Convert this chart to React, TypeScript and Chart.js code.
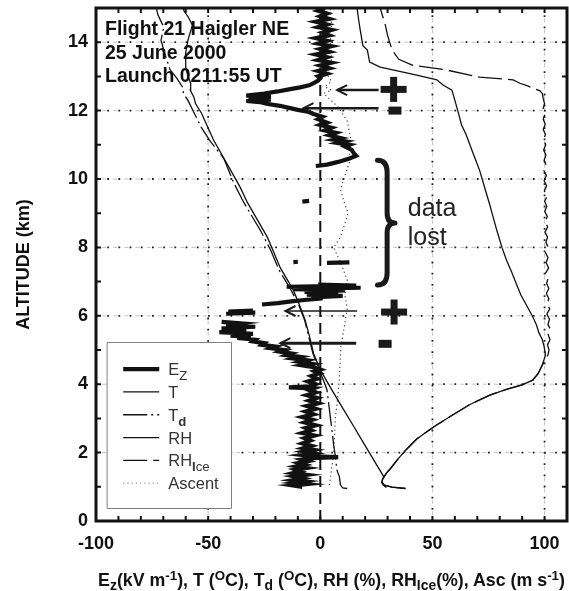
import React, { useEffect, useRef } from "react";
import { Chart, registerables } from "chart.js";

Chart.register(...registerables);

const FONT = '"Liberation Sans", Arial, Helvetica, sans-serif';

// ---------- axes ----------
const X_MIN = -100;
const X_MAX = 110;
const Y_MIN = 0;
const Y_MAX = 15;
const X_TICK_LABELS = [-100, -50, 0, 50, 100];
const Y_TICK_LABELS = [0, 2, 4, 6, 8, 10, 12, 14];
const X_GRID = [-50, 50, 100];
const Y_GRID = [2, 4, 6, 8, 10, 12, 14];

// ---------- series: [altitude km, value] (null = data gap) ----------
const ezProfile: [number, number | null][] = [
  [1.0, -8], [1.04, -12], [1.08, -6], [1.12, -11], [1.16, -7], [1.2, -12], [1.25, -8], [1.3, -11.5],
  [1.35, -6], [1.4, -12], [1.45, -9], [1.5, -11], [1.55, -6], [1.6, -10.5], [1.65, -7], [1.7, -9.5],
  [1.75, -5.5], [1.8, -8], [1.84, -4], [1.87, 8], [1.89, -3], [1.93, -8], [1.98, -3], [2.03, -7],
  [2.08, -3], [2.13, -7.5], [2.2, -4], [2.27, -8], [2.35, -4.5], [2.42, -7], [2.5, -2.5], [2.57, -8],
  [2.65, -4], [2.72, -6.5], [2.8, -2], [2.88, -7], [2.96, -3.5], [3.04, -8], [3.12, -3], [3.2, -6.5],
  [3.28, -2], [3.36, -6], [3.44, -1], [3.52, -5], [3.6, -1.5], [3.68, -6], [3.76, -2], [3.83, -5],
  [3.88, -3], [3.91, -14], [3.94, -4], [4.0, -2], [4.08, -5.5], [4.16, -1.5], [4.24, -4], [4.32, -0.5],
  [4.38, -2.5], [4.43, 0], [4.5, -3], [4.55, -8], [4.6, -4], [4.65, -9], [4.7, -6], [4.75, -12],
  [4.8, -9], [4.85, -15], [4.9, -13], [4.95, -18], [5.0, -16], [5.05, -22], [5.1, -20], [5.15, -26],
  [5.2, -25], [5.25, -30], [5.3, -29], [5.35, -37], [5.38, -31], [5.42, -40], [5.47, -30], [5.52, -45],
  [5.58, -33], [5.63, -44], [5.68, -29], [5.73, -42], [5.78, -36], [5.82, -44],
  [5.9, null],
  [6.06, -42], [6.09, -29], [6.12, -41], [6.15, -30],
  [6.2, null],
  [6.33, -26], [6.37, -19], [6.42, -13], [6.47, -6], [6.51, 1], [6.54, -4], [6.58, 10], [6.62, -6],
  [6.66, 8], [6.7, -7], [6.74, 11], [6.78, -12], [6.82, 18], [6.85, -15], [6.88, 16], [6.91, -1],
  [7.0, null],
  [7.55, 3], [7.56, 13],
  [7.565, null],
  [7.57, -12], [7.58, -10],
  [8.0, null],
  [9.34, -8], [9.36, -5],
  [10.0, null],
  [10.38, -2], [10.42, 3], [10.5, 8], [10.6, 13], [10.68, 16], [10.75, 15], [10.85, 14], [10.95, 11],
  [11.0, 13], [11.05, 8], [11.1, 11], [11.15, 6], [11.2, 9], [11.28, 4], [11.35, 7], [11.42, 2],
  [11.5, 5], [11.58, 0], [11.65, 3], [11.75, -1], [11.82, 1], [11.9, -3], [11.96, -5], [12.02, -10],
  [12.08, -14], [12.14, -18], [12.2, -24], [12.25, -27], [12.28, -33], [12.32, -22], [12.36, -32],
  [12.4, -22], [12.44, -33], [12.5, -25], [12.56, -19], [12.62, -14], [12.68, -9], [12.74, -5],
  [12.8, -3], [12.88, -1], [12.95, 0], [13.0, -1], [13.08, 3], [13.16, -1], [13.24, 4], [13.32, 0],
  [13.4, 5], [13.48, -1], [13.56, 3], [13.64, -2], [13.72, 4], [13.8, 0], [13.88, 5], [13.96, -1],
  [14.04, 3], [14.12, -2], [14.2, 4], [14.28, 1], [14.36, 5], [14.44, -1], [14.52, 3], [14.6, -2],
  [14.68, 4], [14.76, 0], [14.84, 3], [14.92, -1], [15.0, 2],
];

const tProfile: [number, number][] = [
  [0.98, 29.5], [1.05, 28], [1.12, 27.4], [1.2, 27.6], [1.3, 28.3], [1.7, 24.6], [2.25, 19.6],
  [2.8, 14.6], [3.3, 10], [3.85, 5], [4.42, 0], [4.9, -3], [5.4, -4.8], [5.88, -6.8], [6.3, -9.2],
  [6.75, -12], [7.4, -17.8], [8.3, -23.6], [9.3, -32.4], [9.77, -35.8], [10.26, -40], [11.14, -47.6],
  [11.93, -53], [12.2, -55.6], [12.4, -56.4], [12.6, -58], [12.8, -57.8], [13.0, -59], [13.27, -60],
  [13.7, -60], [14.06, -59], [14.5, -57], [14.75, -59], [14.94, -61], [15.0, -60.5],
];

const tdProfile: [number, number][] = [
  [0.95, 12], [0.97, 10], [1.05, 9], [1.3, 8.5], [1.45, 7.6], [1.6, 7.2], [1.87, 6.8], [2.2, 6],
  [2.6, 5.3], [3.03, 4.5], [3.4, 3.8], [3.83, 3], [4.1, 1.5], [4.42, -0.5], [4.9, -3.3], [5.88, -7],
  [6.3, -9.5], [6.75, -13], [7.35, -18.5], [7.9, -22], [8.5, -26.7], [9.3, -34], [9.9, -38.7],
  [10.6, -43], [11.1, -49], [11.5, -53], [11.9, -56], [12.3, -59], [12.5, -61], [12.7, -61.5],
  [12.95, -64], [13.2, -67], [13.4, -68], [13.7, -69.5], [14.06, -71], [14.44, -69.8], [14.8, -72.4],
  [14.97, -73],
];

const rhLowProfile: [number, number][] = [
  [0.95, 38], [0.99, 32], [1.05, 28.5], [1.15, 27.5], [1.25, 28], [1.4, 29.5], [1.55, 31.5],
  [1.8, 34.5], [2.1, 38.5], [2.4, 43], [2.75, 50.5], [3.1, 59], [3.4, 66.5], [3.68, 75.6], [3.85, 83],
  [3.98, 90], [4.12, 94.7], [4.3, 97], [4.56, 99],
];

const rhUpperProfile: [number, number][] = [
  [4.85, 100.4], [5.1, 99.8], [5.3, 99], [5.5, 97.5], [5.73, 96.4], [6.0, 94.5], [6.3, 92],
  [6.6, 89.5], [6.9, 87.6], [7.25, 85.5], [7.63, 83], [8.0, 81], [8.5, 78.7], [8.9, 77], [9.24, 75.6],
  [9.7, 73.5], [10.26, 71], [10.6, 69], [11.0, 66.7], [11.3, 65], [11.58, 63], [12.0, 61.3],
  [12.3, 60], [12.6, 58.7], [12.75, 54.7], [12.9, 52], [13.04, 43], [13.13, 36.4], [13.27, 26.7],
  [13.42, 22], [13.77, 21], [13.9, 19], [14.36, 17.8], [14.7, 17], [15.0, 16.4],
];

const rhIceUpperProfile: [number, number][] = [
  [4.85, 101.5], [5.0, 102], [5.15, 101.3], [5.3, 102.4], [5.45, 101.6], [5.6, 102.6], [5.75, 101.5],
  [5.9, 102.2], [6.05, 101], [6.2, 102.3], [6.35, 101.2], [6.5, 101.9], [6.65, 100.8], [6.8, 101.9],
  [6.95, 100.9], [7.1, 101.6], [7.25, 100.5], [7.4, 101.8], [7.55, 100.7], [7.7, 101.5], [7.85, 100.4],
  [8.0, 101.6], [8.15, 100.6], [8.3, 101.3], [8.45, 100.2], [8.6, 101.4], [8.75, 100.3], [8.9, 101.2],
  [9.05, 100.1], [9.2, 101], [9.35, 100], [9.5, 101.2], [9.65, 99.9], [9.8, 100.9], [9.95, 99.8],
  [10.1, 100.8], [10.25, 99.7], [10.4, 100.7], [10.55, 99.8], [10.7, 100.6], [10.85, 99.6], [11.0, 100.5],
  [11.15, 99.5], [11.3, 100.4], [11.45, 99.4], [11.6, 100.3], [11.75, 99.4], [11.9, 100.2], [12.05, 99.3],
  [12.2, 100], [12.35, 99.4], [12.5, 99], [12.58, 98], [12.65, 95], [12.72, 92.5], [12.8, 89],
  [12.9, 86], [12.98, 71], [13.19, 56], [13.33, 41], [13.5, 35], [13.77, 32], [14.2, 30], [14.5, 29],
  [15.0, 26.7],
];

const ascentProfile: [number, number][] = [
  [1.05, 4], [1.2, 4.4], [1.5, 5], [2.0, 6], [2.5, 6.4], [3.0, 6.7], [3.5, 7.6], [4.1, 8.4],
  [4.6, 8.8], [5.1, 9.2], [5.6, 10.5], [6.2, 12], [6.6, 11], [7.05, 12], [7.4, 10], [7.7, 8], [8.0, 6],
  [8.3, 9], [8.7, 11], [9.0, 12.4], [9.35, 10.5], [9.7, 9], [10.1, 11], [10.5, 13], [10.8, 13],
  [11.2, 13.5], [11.7, 12], [12.1, 8], [12.35, 4], [12.5, 1.5], [12.6, 5], [12.7, 2], [12.85, 5],
  [13.0, 3.5], [13.5, 5], [14.0, 4.5], [14.5, 5], [15.0, 4.4],
];

// ---------- legend labels ----------
type Seg = { t: string; sub?: boolean; bold?: boolean };
const LEGEND_LABELS: Seg[][] = [
  [{ t: "E" }, { t: "Z", sub: true }],
  [{ t: "T" }],
  [{ t: "T" }, { t: "d", sub: true, bold: true }],
  [{ t: "RH" }],
  [{ t: "RH" }, { t: "I", sub: true, bold: true }, { t: "ce", sub: true }],
  [{ t: "Ascent" }],
];
const LEGEND_BOX = { x1: -95, x2: -39.5, yTop: 5.23, yBottom: 0.38 };

// ---------- annotations (data coordinates) ----------
const TITLE_LINES = ["Flight 21 Haigler NE", "25 June 2000", "Launch 0211:55 UT"];
const ARROWS = [
  { y: 12.6, from: 26, to: 7.5, w: 2.5 },
  { y: 12.07, from: 26, to: -7.5, w: 2.5 },
  { y: 6.14, from: 16.4, to: -15.5, w: 1.5 },
  { y: 5.2, from: 16, to: -17.8, w: 3 },
];
const SIGNS = [
  { kind: "+", x: 32.7, y: 12.62 },
  { kind: "-", x: 33.3, y: 12.0 },
  { kind: "+", x: 32.9, y: 6.11 },
  { kind: "-", x: 28.9, y: 5.18 },
];
const BRACE = { xEnd: 25.5, xSpine: 29.8, xTip: 33.3, top: 10.55, mid: 8.71, bottom: 6.9 };
const NOTE_LINES = [
  { text: "data", x: 39, y: 8.92 },
  { text: "lost", x: 39, y: 8.07 },
];

const toPoints = (p: [number, number | null][]) =>
  p.map(([a, v]) => (v === null ? { x: NaN, y: NaN } : { x: v, y: a }));

function drawRich(ctx: CanvasRenderingContext2D, segs: Seg[], x: number, y: number, size: number, color: string) {
  let cx = x;
  for (const s of segs) {
    const fs = s.sub ? size * 0.8 : size;
    ctx.font = `${s.bold ? "bold " : ""}${fs}px ${FONT}`;
    ctx.fillStyle = color;
    ctx.fillText(s.t, cx, y + (s.sub ? size * 0.3 : 0));
    cx += ctx.measureText(s.t).width;
  }
}

const decor = {
  id: "decor",
  beforeDatasetsDraw(chart: any) {
    const { ctx, chartArea: a, scales } = chart;
    const xs = scales.x, ys = scales.y;
    ctx.save();
    const dotted = (x1: number, y1: number, x2: number, y2: number) => {
      ctx.beginPath();
      ctx.moveTo(x1, y1);
      ctx.lineTo(x2, y2);
      ctx.setLineDash([4, 7.2]);
      ctx.lineDashOffset = -6;
      ctx.strokeStyle = "#c4c4c4";
      ctx.lineWidth = 1;
      ctx.stroke();
      ctx.setLineDash([1.8, 9.4]);
      ctx.lineDashOffset = 0;
      ctx.strokeStyle = "#222";
      ctx.lineWidth = 1.8;
      ctx.stroke();
    };
    for (const v of X_GRID) {
      const px = xs.getPixelForValue(v);
      dotted(px, a.bottom, px, a.top);
    }
    for (const v of Y_GRID) {
      const py = ys.getPixelForValue(v);
      dotted(a.left, py, a.right, py);
    }
    // zero line
    const x0 = xs.getPixelForValue(0);
    ctx.beginPath();
    ctx.setLineDash([11, 6]);
    ctx.lineDashOffset = 0;
    ctx.moveTo(x0, a.bottom);
    ctx.lineTo(x0, a.top);
    ctx.strokeStyle = "#111";
    ctx.lineWidth = 2;
    ctx.stroke();
    ctx.restore();
  },
  afterDatasetsDraw(chart: any) {
    const { ctx, chartArea: a, scales } = chart;
    const xs = scales.x, ys = scales.y;
    ctx.save();
    ctx.setLineDash([]);
    ctx.strokeStyle = "#111";
    ctx.fillStyle = "#111";

    // inward ticks
    ctx.lineWidth = 2;
    for (let v = X_MIN + 10; v < X_MAX; v += 10) {
      const px = xs.getPixelForValue(v);
      ctx.beginPath();
      ctx.moveTo(px, a.bottom);
      ctx.lineTo(px, a.bottom - 5);
      ctx.moveTo(px, a.top);
      ctx.lineTo(px, a.top + 5);
      ctx.stroke();
    }
    for (let v = Y_MIN + 1; v < Y_MAX; v += 1) {
      const py = ys.getPixelForValue(v);
      ctx.beginPath();
      ctx.moveTo(a.left, py);
      ctx.lineTo(a.left + 5, py);
      ctx.moveTo(a.right, py);
      ctx.lineTo(a.right - 5, py);
      ctx.stroke();
    }
    // frame
    ctx.lineWidth = 3;
    ctx.strokeRect(a.left, a.top, a.right - a.left, a.bottom - a.top);

    // title text
    ctx.font = `bold 19.5px ${FONT}`;
    ctx.fillStyle = "#111";
    ctx.textBaseline = "alphabetic";
    TITLE_LINES.forEach((t, i) => ctx.fillText(t, a.left + 9, a.top + 27 + i * 23.5));

    // arrows
    ctx.strokeStyle = "#1a1a1a";
    for (const ar of ARROWS) {
      const py = ys.getPixelForValue(ar.y);
      const pf = xs.getPixelForValue(ar.from);
      const pt = xs.getPixelForValue(ar.to);
      ctx.lineWidth = ar.w;
      ctx.lineCap = "butt";
      ctx.beginPath();
      ctx.moveTo(pf, py);
      ctx.lineTo(pt, py);
      ctx.stroke();
      ctx.lineWidth = 2;
      ctx.beginPath();
      ctx.moveTo(pt + 10, py - 5);
      ctx.lineTo(pt, py);
      ctx.lineTo(pt + 10, py + 5);
      ctx.stroke();
    }
    // signs
    ctx.fillStyle = "#1a1a1a";
    for (const s of SIGNS) {
      const cx = xs.getPixelForValue(s.x);
      const cy = ys.getPixelForValue(s.y);
      if (s.kind === "+") {
        ctx.fillRect(cx - 13, cy - 3.5, 26, 7);
        ctx.fillRect(cx - 3.5, cy - 12.5, 7, 25);
      } else {
        ctx.fillRect(cx - 6.5, cy - 4, 13, 8);
      }
    }
    // brace
    {
      const xl = xs.getPixelForValue(BRACE.xEnd);
      const xm = xs.getPixelForValue(BRACE.xSpine);
      const xt = xs.getPixelForValue(BRACE.xTip);
      const yt = ys.getPixelForValue(BRACE.top);
      const ym = ys.getPixelForValue(BRACE.mid);
      const yb = ys.getPixelForValue(BRACE.bottom);
      ctx.strokeStyle = "#1a1a1a";
      ctx.lineWidth = 5;
      ctx.lineCap = "round";
      ctx.lineJoin = "round";
      ctx.beginPath();
      ctx.moveTo(xl, yt);
      ctx.quadraticCurveTo(xm, yt, xm, yt + 12);
      ctx.lineTo(xm, ym - 10);
      ctx.quadraticCurveTo(xm, ym, xt, ym);
      ctx.quadraticCurveTo(xm, ym, xm, ym + 10);
      ctx.lineTo(xm, yb - 12);
      ctx.quadraticCurveTo(xm, yb, xl, yb);
      ctx.stroke();
    }
    // note text
    ctx.font = `25px ${FONT}`;
    ctx.fillStyle = "#222";
    for (const n of NOTE_LINES) {
      ctx.fillText(n.text, xs.getPixelForValue(n.x), ys.getPixelForValue(n.y));
    }

    // legend
    {
      const bx1 = xs.getPixelForValue(LEGEND_BOX.x1);
      const bx2 = xs.getPixelForValue(LEGEND_BOX.x2);
      const by1 = ys.getPixelForValue(LEGEND_BOX.yTop);
      const by2 = ys.getPixelForValue(LEGEND_BOX.yBottom);
      ctx.fillStyle = "#fff";
      ctx.fillRect(bx1, by1, bx2 - bx1, by2 - by1);
      ctx.strokeStyle = "#808080";
      ctx.lineWidth = 1;
      ctx.setLineDash([]);
      ctx.strokeRect(Math.round(bx1) + 0.5, Math.round(by1) + 0.5, Math.round(bx2 - bx1), Math.round(by2 - by1));
      chart.data.datasets.forEach((ds: any, i: number) => {
        const ry = by1 + 27 + i * 22.8;
        ctx.beginPath();
        ctx.setLineDash(ds.borderDash || []);
        ctx.lineDashOffset = 0;
        ctx.strokeStyle = ds.legendColor || ds.borderColor;
        ctx.lineWidth = ds.borderWidth;
        ctx.lineCap = "butt";
        ctx.moveTo(bx1 + 16, ry);
        ctx.lineTo(bx1 + 52, ry);
        ctx.stroke();
        ctx.setLineDash([]);
        drawRich(ctx, LEGEND_LABELS[i], bx1 + 61, ry + 6, 16.5, "#333");
      });
    }
    ctx.restore();
  },
};

export default function App() {
  const ref = useRef<HTMLCanvasElement>(null);
  useEffect(() => {
    const canvas = ref.current;
    if (!canvas) return;
    const line = (label: string, pts: any[], width: number, dash: number[], color = "#111", extra: any = {}) => ({
      label,
      data: pts,
      showLine: true,
      borderColor: color,
      backgroundColor: color,
      borderWidth: width,
      borderDash: dash,
      pointRadius: 0,
      pointHoverRadius: 0,
      spanGaps: false,
      fill: false,
      ...extra,
    });
    const chart = new Chart(canvas, {
      type: "scatter",
      data: {
        datasets: [
          line("Ez", toPoints(ezProfile), 4.2, []),
          line("T", toPoints(tProfile), 1.3, []),
          line("Td", toPoints(tdProfile), 1.3, [24, 4, 2, 4]),
          line("RH", toPoints([...rhLowProfile, ...rhUpperProfile]), 1.3, []),
          line("RHIce", toPoints([...rhLowProfile, ...rhIceUpperProfile]), 1.3, [24, 6]),
          line("Ascent", toPoints(ascentProfile), 1.2, [1.2, 3], "#444", { legendColor: "#9a9a9a" }),
        ] as any,
      },
      options: {
        responsive: false,
        animation: false,
        devicePixelRatio: 1,
        events: [],
        layout: { padding: { top: 8, right: 2, left: 0, bottom: 0 } },
        plugins: { legend: { display: false }, tooltip: { enabled: false }, title: { display: false } },
        scales: {
          x: {
            type: "linear",
            min: X_MIN,
            max: X_MAX,
            grid: { display: false, drawTicks: false },
            border: { display: false },
            ticks: {
              stepSize: 10,
              autoSkip: false,
              maxRotation: 0,
              padding: 12,
              color: "#111",
              font: { size: 18, weight: "bold", family: FONT },
              callback: (v: any) => (X_TICK_LABELS.includes(Math.round(Number(v))) ? String(Math.round(Number(v))) : ""),
            },
            afterFit: (s: any) => {
              s.height = 70;
              s.paddingLeft = 0;
              s.paddingRight = 0;
            },
          },
          y: {
            type: "linear",
            min: Y_MIN,
            max: Y_MAX,
            grid: { display: false, drawTicks: false },
            border: { display: false },
            ticks: {
              stepSize: 1,
              autoSkip: false,
              padding: 8,
              color: "#111",
              font: { size: 18, weight: "bold", family: FONT },
              callback: (v: any) => (Y_TICK_LABELS.includes(Math.round(Number(v))) ? String(Math.round(Number(v))) : ""),
            },
            title: {
              display: true,
              text: "ALTITUDE (km)",
              color: "#111",
              font: { size: 18, weight: "bold", family: FONT },
              padding: { top: 13, bottom: 0 },
            },
            afterFit: (s: any) => {
              s.width = 96;
              s.paddingTop = 0;
              s.paddingBottom = 0;
            },
          },
        },
      } as any,
      plugins: [decor],
    });
    return () => chart.destroy();
  }, []);

  const sub = { fontSize: "0.78em", position: "relative" as const, top: "0.3em" };
  const sup = { fontSize: "0.75em", position: "relative" as const, top: "-0.45em" };
  return (
    <div style={{ position: "absolute", left: 0, top: 0, width: 569, height: 591, background: "#fff", overflow: "hidden" }}>
      <canvas ref={ref} width={569} height={591} style={{ display: "block", width: 569, height: 591 }} />
      <div
        style={{
          position: "absolute",
          left: 96,
          width: 471,
          top: 570,
          textAlign: "center",
          whiteSpace: "nowrap",
          lineHeight: "20px",
          font: `bold 17.8px ${FONT}`,
          color: "#111",
        }}
      >
        E<span style={sub}>z</span>(kV m<span style={sup}>-1</span>), T (<span style={sup}>O</span>C), T
        <span style={sub}>d</span> (<span style={sup}>O</span>C), RH (%), RH<span style={sub}>Ice</span>(%), Asc (m s
        <span style={sup}>-1</span>)
      </div>
    </div>
  );
}
